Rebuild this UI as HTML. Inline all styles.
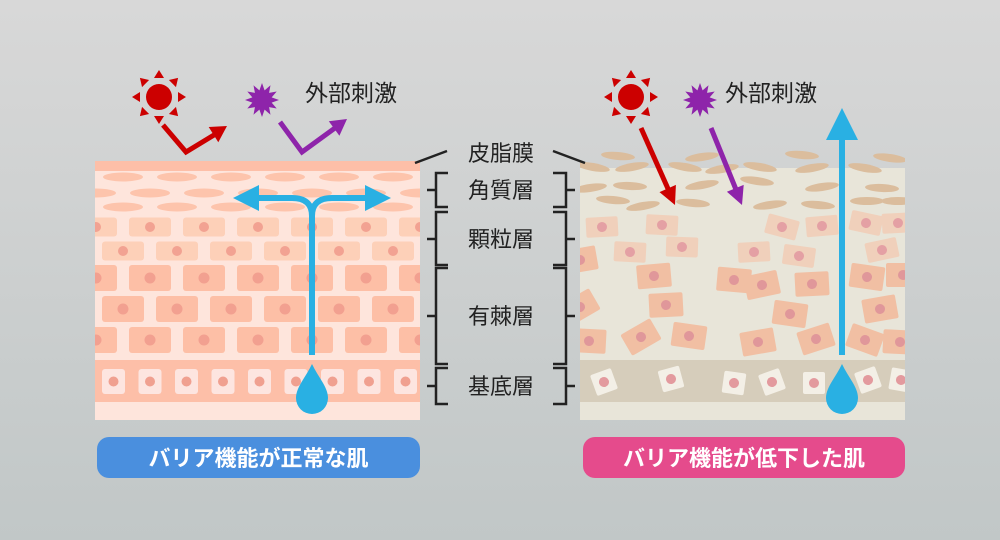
<!DOCTYPE html>
<html><head><meta charset="utf-8"><style>
html,body{margin:0;padding:0}
body{width:1000px;height:540px;overflow:hidden;background:linear-gradient(#d8d8d8,#c1c7c7);font-family:"Liberation Sans","Noto Sans CJK JP",sans-serif}
svg{display:block}
text{font-family:"Liberation Sans","Noto Sans CJK JP",sans-serif}
</style></head><body>
<svg width="1000" height="540" viewBox="0 0 1000 540">
<defs>
<clipPath id="cl"><rect x="95" y="161" width="325" height="259"/></clipPath>
<clipPath id="cr"><rect x="580" y="140" width="325" height="280"/></clipPath>
<g id="cA"><rect x="-21" y="-9.5" width="42" height="19" rx="3" fill="#fdd0b8"/><circle r="5" fill="#f2a292"/></g>
<g id="cC"><rect x="-21" y="-13" width="42" height="26" rx="3" fill="#fdbfa6"/><circle r="5.5" fill="#f2a090"/></g>
<g id="cB"><rect x="-11.5" y="-12.5" width="23" height="25" rx="3" fill="#fde5e0"/><circle r="5" fill="#f0a090"/></g>
<g id="r1"><rect x="-16" y="-10" width="32" height="20" rx="2" fill="#f0d0bb"/><circle r="5" fill="#e4a0a4"/></g>
<g id="r2"><rect x="-17" y="-12" width="34" height="24" rx="2" fill="#f1bfa3"/><circle r="5" fill="#e0979a"/></g>
<g id="rb"><rect x="-11" y="-11" width="22" height="22" rx="2" fill="#f3efe6"/><circle r="5" fill="#e39a9e"/></g>
<ellipse id="sc" rx="17" ry="4" fill="#dbbd9d"/>
<g id="sun"><circle r="13" fill="#cc0000"/>
<g fill="#cc0000"><polygon points="0,-27 -5,-19 5,-19"/><polygon points="0,-27 -5,-19 5,-19" transform="rotate(45)"/><polygon points="0,-27 -5,-19 5,-19" transform="rotate(90)"/><polygon points="0,-27 -5,-19 5,-19" transform="rotate(135)"/><polygon points="0,-27 -5,-19 5,-19" transform="rotate(180)"/><polygon points="0,-27 -5,-19 5,-19" transform="rotate(225)"/><polygon points="0,-27 -5,-19 5,-19" transform="rotate(270)"/><polygon points="0,-27 -5,-19 5,-19" transform="rotate(315)"/></g></g>
<polygon id="star" fill="#8e24aa" points="0,-17 2.59,-9.66 8.5,-14.72 7.07,-7.07 14.72,-8.5 9.66,-2.59 17,0 9.66,2.59 14.72,8.5 7.07,7.07 8.5,14.72 2.59,9.66 0,17 -2.59,9.66 -8.5,14.72 -7.07,7.07 -14.72,8.5 -9.66,2.59 -17,0 -9.66,-2.59 -14.72,-8.5 -7.07,-7.07 -8.5,-14.72 -2.59,-9.66"/>
</defs>

<!-- LEFT PANEL -->
<g clip-path="url(#cl)">
<rect x="95" y="161" width="325" height="259" fill="#fee5dc"/>
<rect x="95" y="161" width="325" height="10" fill="#fdbfa8"/>
<g fill="#fdc4ac">
<ellipse cx="69" cy="177" rx="20" ry="4.5"/><ellipse cx="123" cy="177" rx="20" ry="4.5"/><ellipse cx="177" cy="177" rx="20" ry="4.5"/><ellipse cx="231" cy="177" rx="20" ry="4.5"/><ellipse cx="285" cy="177" rx="20" ry="4.5"/><ellipse cx="339" cy="177" rx="20" ry="4.5"/><ellipse cx="393" cy="177" rx="20" ry="4.5"/><ellipse cx="447" cy="177" rx="20" ry="4.5"/>
<ellipse cx="96" cy="193" rx="20" ry="4.5"/><ellipse cx="150" cy="193" rx="20" ry="4.5"/><ellipse cx="204" cy="193" rx="20" ry="4.5"/><ellipse cx="258" cy="193" rx="20" ry="4.5"/><ellipse cx="312" cy="193" rx="20" ry="4.5"/><ellipse cx="366" cy="193" rx="20" ry="4.5"/><ellipse cx="420" cy="193" rx="20" ry="4.5"/>
<ellipse cx="69" cy="207" rx="20" ry="4.5"/><ellipse cx="123" cy="207" rx="20" ry="4.5"/><ellipse cx="177" cy="207" rx="20" ry="4.5"/><ellipse cx="231" cy="207" rx="20" ry="4.5"/><ellipse cx="285" cy="207" rx="20" ry="4.5"/><ellipse cx="339" cy="207" rx="20" ry="4.5"/><ellipse cx="393" cy="207" rx="20" ry="4.5"/><ellipse cx="447" cy="207" rx="20" ry="4.5"/>
</g>
<g>
<use href="#cA" x="96" y="227"/><use href="#cA" x="150" y="227"/><use href="#cA" x="204" y="227"/><use href="#cA" x="258" y="227"/><use href="#cA" x="312" y="227"/><use href="#cA" x="366" y="227"/><use href="#cA" x="420" y="227"/>
<use href="#cA" x="123" y="251"/><use href="#cA" x="177" y="251"/><use href="#cA" x="231" y="251"/><use href="#cA" x="285" y="251"/><use href="#cA" x="339" y="251"/><use href="#cA" x="393" y="251"/>
<use href="#cC" x="96" y="278"/><use href="#cC" x="150" y="278"/><use href="#cC" x="204" y="278"/><use href="#cC" x="258" y="278"/><use href="#cC" x="312" y="278"/><use href="#cC" x="366" y="278"/><use href="#cC" x="420" y="278"/>
<use href="#cC" x="123" y="309"/><use href="#cC" x="177" y="309"/><use href="#cC" x="231" y="309"/><use href="#cC" x="285" y="309"/><use href="#cC" x="339" y="309"/><use href="#cC" x="393" y="309"/>
<use href="#cC" x="96" y="340"/><use href="#cC" x="150" y="340"/><use href="#cC" x="204" y="340"/><use href="#cC" x="258" y="340"/><use href="#cC" x="312" y="340"/><use href="#cC" x="366" y="340"/><use href="#cC" x="420" y="340"/>
</g>
<rect x="95" y="360" width="325" height="42" fill="#fdbfa8"/>
<use href="#cB" x="113.5" y="381.5"/><use href="#cB" x="150" y="381.5"/><use href="#cB" x="186.5" y="381.5"/><use href="#cB" x="223" y="381.5"/><use href="#cB" x="259.5" y="381.5"/><use href="#cB" x="296" y="381.5"/><use href="#cB" x="332.5" y="381.5"/><use href="#cB" x="369" y="381.5"/><use href="#cB" x="405.5" y="381.5"/>
</g>
<!-- left blue -->
<path d="M312,355 V216 Q312,198 292,198 H256 M312,216 Q312,198 332,198 H368" fill="none" stroke="#29b0e3" stroke-width="6"/>
<polygon points="233,198 259,185 259,211" fill="#29b0e3"/>
<polygon points="391,198 365,185 365,211" fill="#29b0e3"/>
<path d="M312,364 C306,377 296,387 296,398 A16,16 0 0 0 328,398 C328,387 318,377 312,364 Z" fill="#29b0e3"/>

<!-- left stimuli -->
<use href="#sun" x="159" y="97"/>
<use href="#star" x="262" y="100"/>
<polyline points="163,125 186,152 214,135" fill="none" stroke="#cc0000" stroke-width="5"/>
<polygon points="227,126 218.3,142.2 208.7,127" fill="#cc0000"/>
<polyline points="280,122 302,152 335,128" fill="none" stroke="#8e24aa" stroke-width="5"/>
<polygon points="347,119 339.4,135.8 328.8,121.2" fill="#8e24aa"/>
<text x="305" y="101" font-size="23" fill="#222">外部刺激</text>

<!-- RIGHT PANEL -->
<rect x="580" y="168" width="325" height="252" fill="#e8e5d9"/>
<rect x="580" y="360" width="325" height="42" fill="#d6cdbb"/>
<g clip-path="url(#cr)">
<use href="#sc" transform="translate(618,156) rotate(5)"/><use href="#sc" transform="translate(702,157) rotate(-8)"/><use href="#sc" transform="translate(802,155) rotate(5)"/><use href="#sc" transform="translate(890,158) rotate(8)"/>
<use href="#sc" transform="translate(593,167) rotate(10)"/><use href="#sc" transform="translate(632,167) rotate(-10)"/><use href="#sc" transform="translate(685,167) rotate(10)"/><use href="#sc" transform="translate(722,169) rotate(-10)"/><use href="#sc" transform="translate(760,167) rotate(10)"/><use href="#sc" transform="translate(812,168) rotate(-10)"/><use href="#sc" transform="translate(865,168) rotate(10)"/>
<use href="#sc" transform="translate(590,188) rotate(-8)"/><use href="#sc" transform="translate(630,186) rotate(3)"/><use href="#sc" transform="translate(702,185) rotate(-10)"/><use href="#sc" transform="translate(757,181) rotate(8)"/><use href="#sc" transform="translate(822,187) rotate(-8)"/><use href="#sc" transform="translate(882,188) rotate(3)"/>
<use href="#sc" transform="translate(613,200) rotate(5)"/><use href="#sc" transform="translate(643,206) rotate(-10)"/><use href="#sc" transform="translate(693,203) rotate(5)"/><use href="#sc" transform="translate(770,205) rotate(-8)"/><use href="#sc" transform="translate(818,205) rotate(5)"/><use href="#sc" transform="translate(867,201) rotate(0)"/><use href="#sc" transform="translate(898,201) rotate(0)"/>
</g>
<clipPath id="cr2"><rect x="580" y="168" width="325" height="252"/></clipPath>
<g clip-path="url(#cr2)">
<use href="#r1" transform="translate(602,227) rotate(-3)"/><use href="#r1" transform="translate(662,225) rotate(3)"/><use href="#r1" transform="translate(630,252) rotate(3)"/><use href="#r1" transform="translate(682,247) rotate(2)"/>
<use href="#r1" transform="translate(782,227) rotate(15)"/><use href="#r1" transform="translate(822,226) rotate(-5)"/><use href="#r1" transform="translate(754,252) rotate(-3)"/><use href="#r1" transform="translate(799,256) rotate(8)"/>
<use href="#r1" transform="translate(866,223) rotate(12)"/><use href="#r1" transform="translate(898,223) rotate(-3)"/><use href="#r1" transform="translate(882,250) rotate(-12)"/>
<use href="#r2" transform="translate(580,260) rotate(-10)"/><use href="#r2" transform="translate(654,276) rotate(-5)"/><use href="#r2" transform="translate(666,305) rotate(-3)"/><use href="#r2" transform="translate(580,307) rotate(-30)"/>
<use href="#r2" transform="translate(589,341) rotate(3)"/><use href="#r2" transform="translate(641,337) rotate(-30)"/><use href="#r2" transform="translate(689,336) rotate(8)"/>
<use href="#r2" transform="translate(734,280) rotate(5)"/><use href="#r2" transform="translate(762,285) rotate(-12)"/><use href="#r2" transform="translate(812,284) rotate(-3)"/><use href="#r2" transform="translate(790,314) rotate(8)"/><use href="#r2" transform="translate(758,342) rotate(-10)"/><use href="#r2" transform="translate(816,339) rotate(-18)"/>
<use href="#r2" transform="translate(867,277) rotate(8)"/><use href="#r2" transform="translate(903,275) rotate(0)"/><use href="#r2" transform="translate(880,309) rotate(-10)"/><use href="#r2" transform="translate(865,340) rotate(20)"/><use href="#r2" transform="translate(900,342) rotate(3)"/>
<use href="#rb" transform="translate(604,382) rotate(-20)"/><use href="#rb" transform="translate(671,379) rotate(-15)"/><use href="#rb" transform="translate(734,383) rotate(8)"/><use href="#rb" transform="translate(772,382) rotate(-20)"/><use href="#rb" transform="translate(814,383) rotate(0)"/><use href="#rb" transform="translate(868,380) rotate(-20)"/><use href="#rb" transform="translate(901,380) rotate(10)"/>
</g>
<!-- right blue -->
<rect x="839" y="135" width="6" height="220" fill="#29b0e3"/>
<polygon points="842,108 826,140 858,140" fill="#29b0e3"/>
<path d="M842,364 C836,377 826,387 826,398 A16,16 0 0 0 858,398 C858,387 848,377 842,364 Z" fill="#29b0e3"/>
<!-- right stimuli -->
<use href="#sun" x="631" y="97"/>
<use href="#star" x="700" y="100"/>
<line x1="641" y1="128" x2="669" y2="191" stroke="#cc0000" stroke-width="5"/>
<polygon points="675,205 675.9,184.9 659.5,192.1" fill="#cc0000"/>
<line x1="711" y1="128" x2="737" y2="192" stroke="#8e24aa" stroke-width="5"/>
<polygon points="742,205 743.7,184.9 726.9,191.7" fill="#8e24aa"/>
<text x="725" y="101" font-size="23" fill="#222">外部刺激</text>

<!-- center labels -->
<g stroke="#222" stroke-width="2.5" fill="none">
<line x1="415" y1="163" x2="447" y2="151"/><line x1="553" y1="151" x2="585" y2="163"/>
<path d="M448,173 H436 V207 H448 M436,190 H427"/>
<path d="M448,212 H436 V265 H448 M436,239 H427"/>
<path d="M448,268 H436 V364 H448 M436,316 H427"/>
<path d="M448,368 H436 V404 H448 M436,386 H427"/>
<path d="M553,173 H566 V207 H553 M566,190 H575"/>
<path d="M553,212 H566 V265 H553 M566,239 H575"/>
<path d="M553,268 H566 V364 H553 M566,316 H575"/>
<path d="M553,368 H566 V404 H553 M566,386 H575"/>
</g>
<g font-size="22" fill="#222" text-anchor="middle">
<text x="501" y="161">皮脂膜</text>
<text x="501" y="198">角質層</text>
<text x="501" y="247">顆粒層</text>
<text x="501" y="324">有棘層</text>
<text x="501" y="394">基底層</text>
</g>

<!-- buttons -->
<rect x="97" y="437" width="323" height="41" rx="12" fill="#4a8fde"/>
<text x="258.5" y="466" font-size="22" font-weight="bold" fill="#fff" text-anchor="middle">バリア機能が正常な肌</text>
<rect x="583" y="437" width="322" height="41" rx="12" fill="#e54b8c"/>
<text x="744" y="466" font-size="22" font-weight="bold" fill="#fff" text-anchor="middle">バリア機能が低下した肌</text>
</svg>
</body></html>
